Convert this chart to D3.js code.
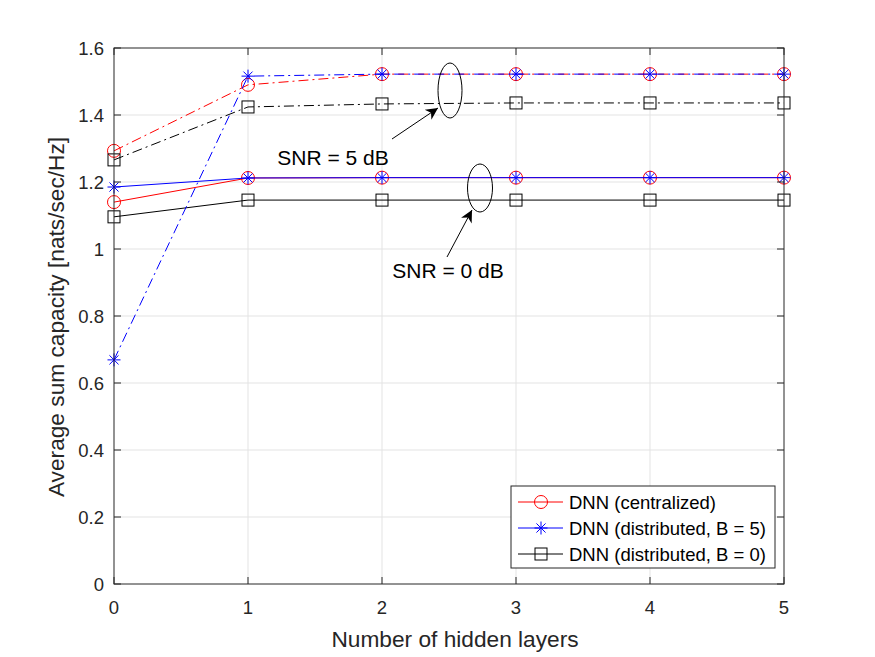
<!DOCTYPE html>
<html>
<head>
<meta charset="utf-8">
<script src="https://cdn.jsdelivr.net/npm/d3@7"></script>
<style>
  body { margin: 0; background: #fff; }
  svg { font-family: "Liberation Sans", Arial, sans-serif; }
</style>
</head>
<body>
<svg id="svg" width="875" height="657"></svg>
<script>
const layers = [0, 1, 2, 3, 4, 5];
const xTicks = [0, 1, 2, 3, 4, 5];
const yTicks = [0, 0.2, 0.4, 0.6, 0.8, 1.0, 1.2, 1.4, 1.6];

// SNR = 5 dB (dash-dot)
const cent5 = [1.293, 1.490, 1.522, 1.522, 1.522, 1.522];
const dist5B5 = [0.669, 1.516, 1.522, 1.522, 1.522, 1.522];
const dist5B0 = [1.266, 1.424, 1.433, 1.436, 1.436, 1.436];
// SNR = 0 dB (solid)
const cent0 = [1.140, 1.212, 1.213, 1.213, 1.213, 1.213];
const dist0B5 = [1.185, 1.212, 1.213, 1.213, 1.213, 1.213];
const dist0B0 = [1.096, 1.146, 1.146, 1.146, 1.146, 1.146];

const legendLabels = ["DNN (centralized)", "DNN (distributed, B = 5)", "DNN (distributed, B = 0)"];

const margin = {left: 114, right: 91, top: 48, bottom: 73};
const W = 875, H = 657;
const x = d3.scaleLinear([0, 5], [margin.left, W - margin.right]);
const y = d3.scaleLinear([0, 1.6], [H - margin.bottom, margin.top]);

const svg = d3.select("#svg");

// grid
svg.append("g").selectAll("line").data(xTicks.slice(1, -1)).join("line")
  .attr("x1", d => x(d)).attr("x2", d => x(d))
  .attr("y1", y(0)).attr("y2", y(1.6))
  .attr("stroke", "#e3e3e3").attr("stroke-width", 1);
svg.append("g").selectAll("line").data(yTicks.slice(1, -1)).join("line")
  .attr("y1", d => y(d)).attr("y2", d => y(d))
  .attr("x1", x(0)).attr("x2", x(5))
  .attr("stroke", "#e3e3e3").attr("stroke-width", 1);

// series
const dashDot = "10,4,2,4";
const series = [
  {vals: cent0, color: "#ff0000", dash: null, marker: "circle"},
  {vals: dist0B5, color: "#0000ff", dash: null, marker: "star"},
  {vals: dist0B0, color: "#000000", dash: null, marker: "square"},
  {vals: cent5, color: "#ff0000", dash: dashDot, marker: "circle"},
  {vals: dist5B5, color: "#0000ff", dash: dashDot, marker: "star"},
  {vals: dist5B0, color: "#000000", dash: dashDot, marker: "square"}
];

const line = d3.line().x((d, i) => x(layers[i])).y(d => y(d));

function drawMarker(g, type, cx, cy, color) {
  if (type === "circle") {
    g.append("circle").attr("cx", cx).attr("cy", cy).attr("r", 6.5)
      .attr("fill", "none").attr("stroke", color).attr("stroke-width", 1);
  } else if (type === "square") {
    g.append("rect").attr("x", cx - 6).attr("y", cy - 6)
      .attr("width", 12).attr("height", 12)
      .attr("fill", "none").attr("stroke", color).attr("stroke-width", 1);
  } else {
    const r = 6.5;
    [[r, 0], [0, r], [r * 0.7, r * 0.7], [r * 0.7, -r * 0.7]].forEach(([dx, dy]) => {
      g.append("line").attr("x1", cx - dx).attr("y1", cy - dy)
        .attr("x2", cx + dx).attr("y2", cy + dy)
        .attr("stroke", color).attr("stroke-width", 1);
    });
  }
}

series.forEach(s => {
  svg.append("path").datum(s.vals)
    .attr("d", line)
    .attr("fill", "none")
    .attr("stroke", s.color)
    .attr("stroke-width", 1)
    .attr("stroke-dasharray", s.dash);
  const mg = svg.append("g");
  s.vals.forEach((v, i) => drawMarker(mg, s.marker, x(layers[i]), y(v), s.color));
});

// axes box
svg.append("rect")
  .attr("x", x(0)).attr("y", y(1.6))
  .attr("width", x(5) - x(0)).attr("height", y(0) - y(1.6))
  .attr("fill", "none").attr("stroke", "#262626").attr("stroke-width", 1);

const tickLen = 7;
const tg = svg.append("g").attr("stroke", "#262626").attr("stroke-width", 1);
xTicks.forEach(t => {
  tg.append("line").attr("x1", x(t)).attr("x2", x(t)).attr("y1", y(0)).attr("y2", y(0) - tickLen);
  tg.append("line").attr("x1", x(t)).attr("x2", x(t)).attr("y1", y(1.6)).attr("y2", y(1.6) + tickLen);
});
yTicks.forEach(t => {
  tg.append("line").attr("y1", y(t)).attr("y2", y(t)).attr("x1", x(0)).attr("x2", x(0) + tickLen);
  tg.append("line").attr("y1", y(t)).attr("y2", y(t)).attr("x1", x(5)).attr("x2", x(5) - tickLen);
});

svg.append("g").selectAll("text").data(xTicks).join("text")
  .attr("x", d => x(d)).attr("y", y(0) + 30)
  .attr("text-anchor", "middle").attr("font-size", 18.5).attr("fill", "#262626")
  .text(d => d);
svg.append("g").selectAll("text").data(yTicks).join("text")
  .attr("x", x(0) - 10).attr("y", d => y(d) + 6.5)
  .attr("text-anchor", "end").attr("font-size", 18.5).attr("fill", "#262626")
  .text(d => d === 0 ? "0" : (d === 1 ? "1" : d3.format(".1f")(d)));

svg.append("text")
  .attr("x", (x(0) + x(5)) / 2 + 6).attr("y", 647)
  .attr("text-anchor", "middle").attr("font-size", 22.7).attr("fill", "#262626")
  .text("Number of hidden layers");
svg.append("text")
  .attr("transform", `translate(64, ${(y(0) + y(1.6)) / 2 + 1}) rotate(-90)`)
  .attr("text-anchor", "middle").attr("font-size", 22.7).attr("fill", "#262626")
  .text("Average sum capacity [nats/sec/Hz]");

// annotations
svg.append("defs").append("marker")
  .attr("id", "arrow").attr("viewBox", "0 0 10 10")
  .attr("refX", 10).attr("refY", 5)
  .attr("markerWidth", 18).attr("markerHeight", 12)
  .attr("markerUnits", "userSpaceOnUse")
  .attr("orient", "auto")
  .append("path").attr("d", "M0,0 L10,5 L0,10 L3,5 Z").attr("fill", "#000");

const notes = [
  {ex: 450, ey: 90.5, rx: 12, ry: 27.5, ax1: 392, ay1: 139, ax2: 438, ay2: 108, tx: 333, ty: 165, label: "SNR = 5 dB"},
  {ex: 480, ey: 188, rx: 12.5, ry: 24, ax1: 447, ay1: 257, ax2: 472, ay2: 210, tx: 448, ty: 278, label: "SNR = 0 dB"}
];
notes.forEach(n => {
  svg.append("ellipse").attr("cx", n.ex).attr("cy", n.ey).attr("rx", n.rx).attr("ry", n.ry)
    .attr("fill", "none").attr("stroke", "#000").attr("stroke-width", 1);
  svg.append("line").attr("x1", n.ax1).attr("y1", n.ay1).attr("x2", n.ax2).attr("y2", n.ay2)
    .attr("stroke", "#000").attr("stroke-width", 1).attr("marker-end", "url(#arrow)");
  svg.append("text").attr("x", n.tx).attr("y", n.ty).attr("text-anchor", "middle")
    .attr("font-size", 21).attr("fill", "#000").text(n.label);
});

// legend
const lg = svg.append("g").attr("transform", "translate(511, 486)");
lg.append("rect").attr("width", 264).attr("height", 82)
  .attr("fill", "#fff").attr("stroke", "#262626").attr("stroke-width", 1);
const legendItems = series.slice(0, 3).map((s, i) => ({...s, label: legendLabels[i]}));
legendItems.forEach((s, i) => {
  const yy = 16 + i * 26;
  lg.append("line").attr("x1", 7).attr("x2", 52).attr("y1", yy).attr("y2", yy)
    .attr("stroke", s.color).attr("stroke-width", 1);
  drawMarker(lg, s.marker, 30, yy, s.color);
  lg.append("text").attr("x", 58).attr("y", yy + 6.5)
    .attr("font-size", 18.5).attr("fill", "#000").text(s.label);
});
</script>
</body>
</html>
